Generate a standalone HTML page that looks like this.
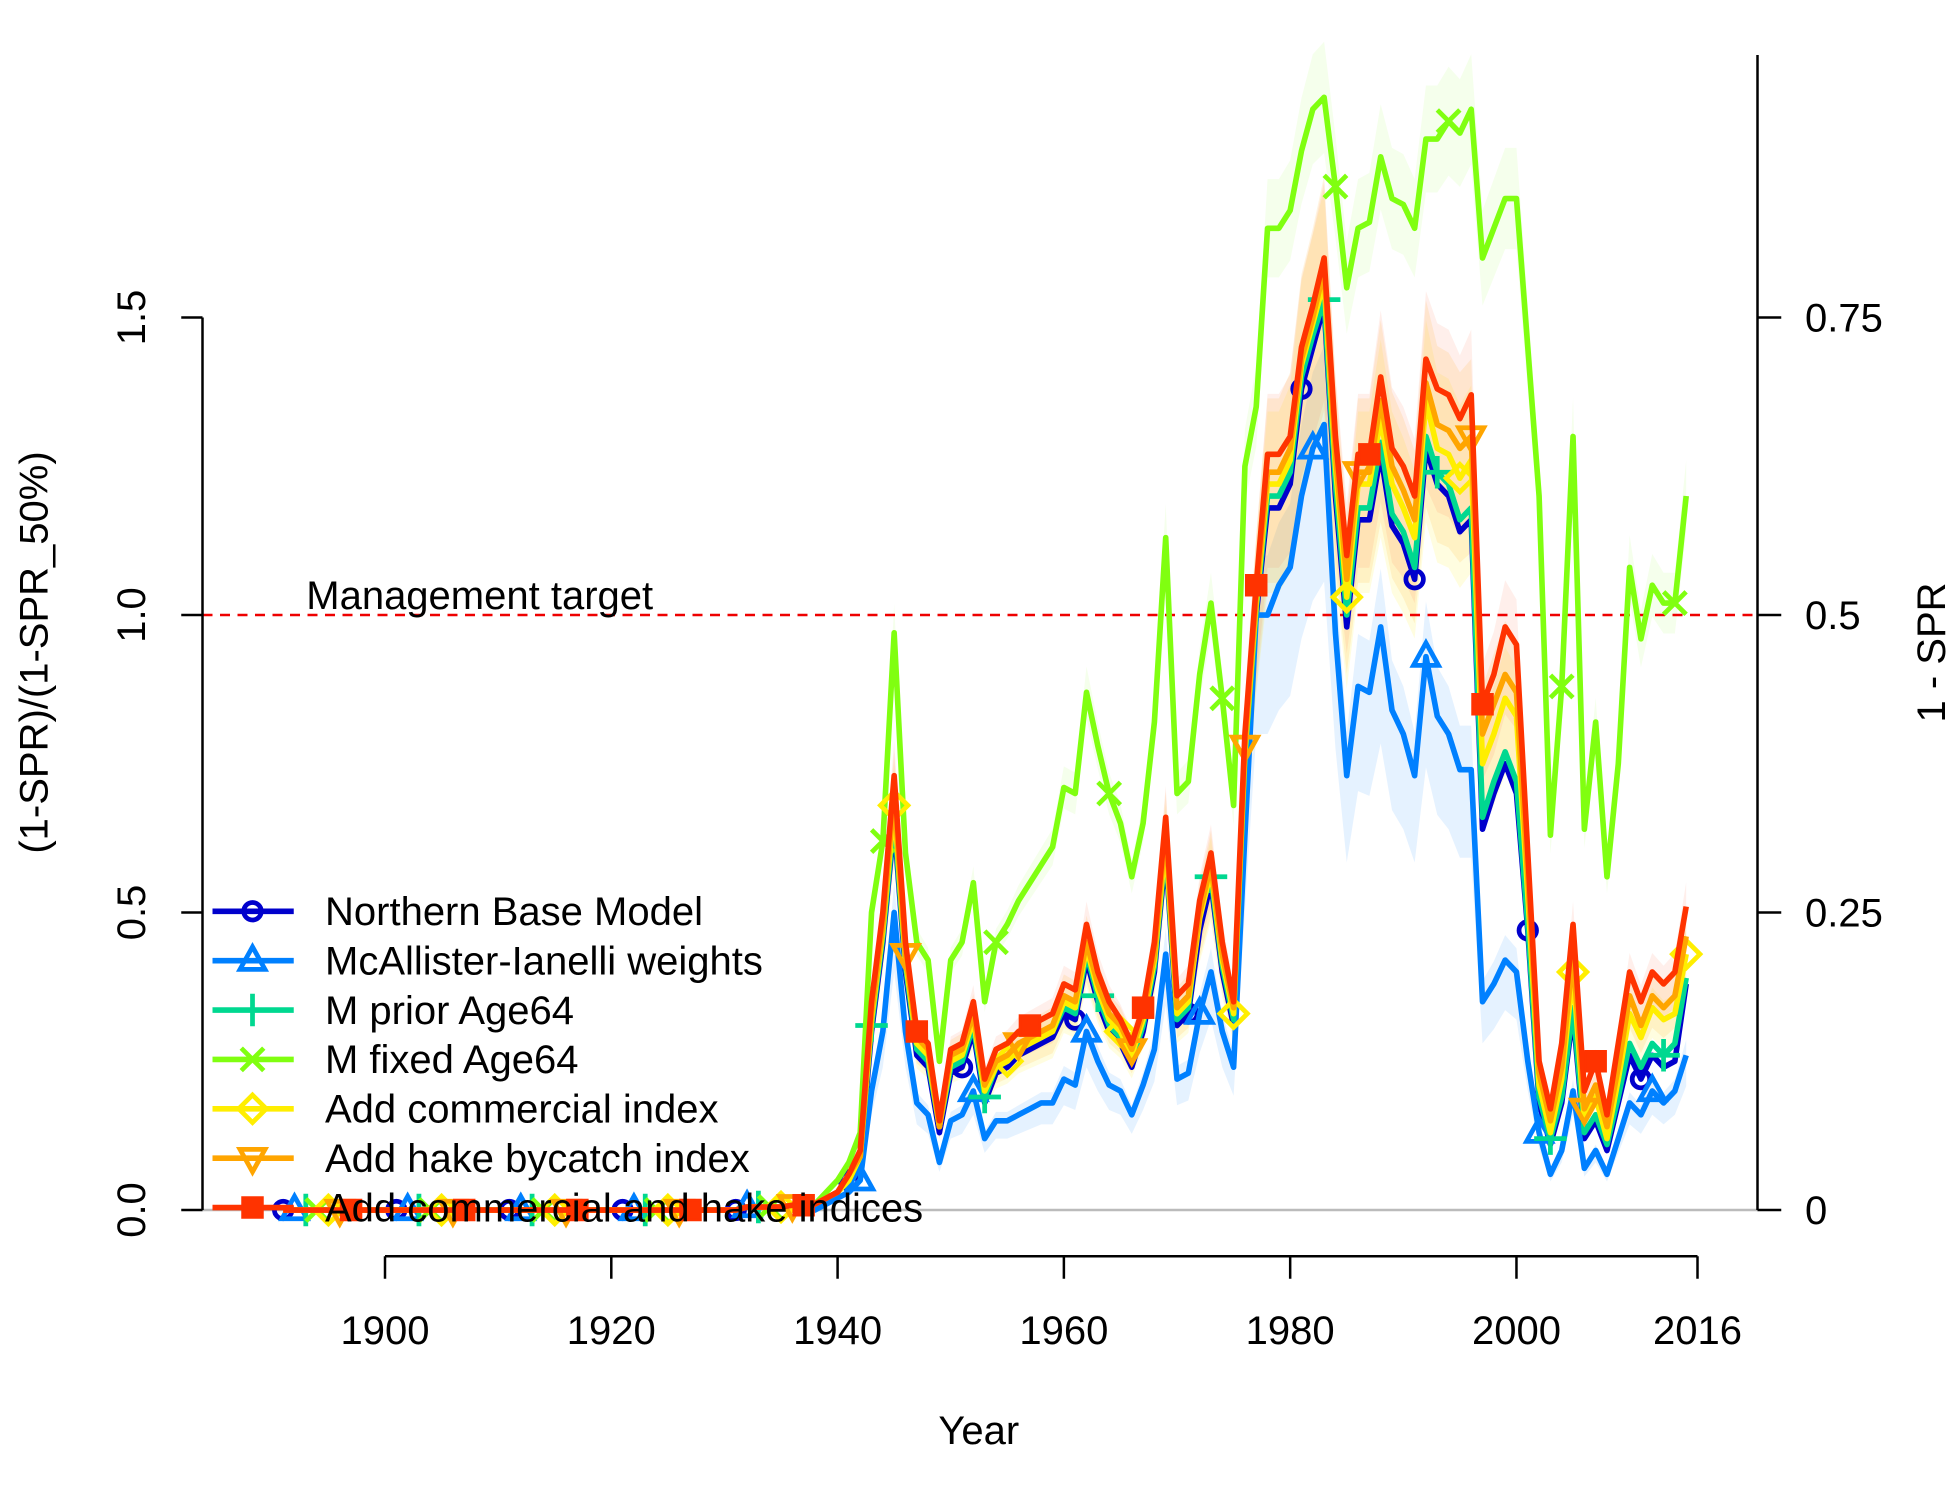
<!DOCTYPE html>
<html><head><meta charset="utf-8">
<style>
html,body{margin:0;padding:0;background:#fff;}
svg{display:block;}
text{font-family:"Liberation Sans",Arial,sans-serif;fill:#000;}
</style></head>
<body>
<svg id="chart" width="1950" height="1500" viewBox="0 0 1560 1200" xmlns="http://www.w3.org/2000/svg">
<g id="bands"></g>
<line x1="162" y1="968" x2="1406" y2="968" stroke="#bbb" stroke-width="2"/>
<line x1="162" y1="492" x2="1406" y2="492" stroke="#e00" stroke-width="2" stroke-dasharray="8,6"/>
<text x="245" y="487" font-size="32">Management target</text>
<g id="lines"></g>
<g id="axes"></g>
<g id="legend"></g>
<text x="783" y="1155" font-size="32" text-anchor="middle">Year</text>
<text transform="translate(38,522) rotate(-90)" font-size="32" text-anchor="middle">(1-SPR)/(1-SPR_50%)</text>
<text transform="translate(1556,522) rotate(-90)" font-size="32" text-anchor="middle">1 - SPR</text>
</svg>
<script>
const startYear = 1891;
const early = [0,0,0,0,0,0,0,0,0,0,0,0,0,0,0,0,0,0,0,0,0,0,0,0,0,0,0,0,0,0,0,0,0,0,0,0,0,0,0,0,0,0.005,0.005,0.005,0.005,0.008,0.008];
const baseVals = early.concat([0.01,0.02,0.03,0.05,0.08,0.3,0.45,0.65,0.4,0.26,0.24,0.13,0.23,0.24,0.3,0.18,0.23,0.24,0.26,0.27,0.28,0.29,0.33,0.32,0.42,0.35,0.3,0.28,0.24,0.3,0.4,0.6,0.31,0.33,0.47,0.55,0.4,0.31,0.75,1.0,1.18,1.18,1.22,1.38,1.45,1.52,1.2,0.98,1.16,1.16,1.27,1.15,1.12,1.06,1.28,1.22,1.2,1.14,1.16,0.64,0.7,0.75,0.7,0.47,0.18,0.11,0.18,0.33,0.12,0.15,0.1,0.18,0.26,0.22,0.26,0.24,0.25,0.38]);
const mcaVals = early.concat([0,0.01,0.02,0.03,0.05,0.2,0.3,0.5,0.3,0.18,0.16,0.08,0.15,0.16,0.2,0.12,0.15,0.15,0.16,0.17,0.18,0.18,0.22,0.21,0.3,0.25,0.21,0.2,0.16,0.21,0.27,0.43,0.22,0.23,0.33,0.4,0.3,0.24,0.63,1.0,1.0,1.05,1.08,1.2,1.28,1.32,0.97,0.73,0.88,0.87,0.98,0.84,0.8,0.73,0.93,0.83,0.8,0.74,0.74,0.35,0.38,0.42,0.4,0.25,0.13,0.06,0.1,0.2,0.07,0.1,0.06,0.12,0.18,0.16,0.2,0.18,0.2,0.26]);
const mpriorVals = early.concat([0.01,0.02,0.03,0.05,0.09,0.31,0.46,0.66,0.41,0.27,0.25,0.14,0.24,0.25,0.31,0.19,0.24,0.25,0.27,0.28,0.29,0.3,0.34,0.33,0.43,0.36,0.31,0.29,0.25,0.31,0.41,0.61,0.32,0.34,0.5,0.56,0.41,0.32,0.76,1.01,1.2,1.2,1.24,1.4,1.47,1.53,1.22,1.0,1.18,1.18,1.29,1.17,1.14,1.08,1.3,1.24,1.22,1.16,1.18,0.66,0.72,0.77,0.72,0.48,0.19,0.12,0.19,0.34,0.13,0.16,0.11,0.19,0.28,0.24,0.28,0.26,0.28,0.39]);
const mfixedVals = early.concat([0.01,0.03,0.05,0.08,0.13,0.5,0.62,0.97,0.6,0.45,0.42,0.25,0.42,0.45,0.55,0.35,0.45,0.48,0.52,0.55,0.58,0.61,0.71,0.7,0.87,0.78,0.7,0.65,0.56,0.65,0.82,1.13,0.7,0.72,0.9,1.02,0.86,0.68,1.25,1.35,1.65,1.65,1.68,1.78,1.85,1.87,1.72,1.55,1.65,1.66,1.77,1.7,1.69,1.65,1.8,1.8,1.83,1.81,1.85,1.6,1.65,1.7,1.7,1.45,1.2,0.63,0.88,1.3,0.64,0.82,0.56,0.75,1.08,0.96,1.05,1.02,1.02,1.2]);
const commVals = early.concat([0.01,0.02,0.03,0.05,0.09,0.32,0.47,0.68,0.42,0.28,0.26,0.14,0.25,0.26,0.32,0.2,0.24,0.25,0.27,0.28,0.29,0.3,0.35,0.34,0.44,0.37,0.32,0.3,0.26,0.32,0.42,0.62,0.33,0.35,0.49,0.57,0.42,0.33,0.77,1.02,1.22,1.22,1.26,1.42,1.49,1.56,1.25,1.03,1.22,1.22,1.33,1.22,1.18,1.13,1.36,1.28,1.27,1.23,1.26,0.75,0.8,0.86,0.83,0.53,0.21,0.13,0.22,0.4,0.15,0.19,0.12,0.22,0.33,0.29,0.34,0.32,0.33,0.43]);
const hakeVals = early.concat([0.01,0.02,0.03,0.06,0.09,0.33,0.48,0.7,0.43,0.29,0.27,0.14,0.26,0.27,0.33,0.21,0.25,0.26,0.28,0.29,0.3,0.31,0.36,0.35,0.45,0.38,0.33,0.31,0.27,0.33,0.43,0.64,0.34,0.36,0.5,0.58,0.43,0.34,0.78,1.03,1.24,1.24,1.28,1.43,1.5,1.58,1.27,1.06,1.24,1.24,1.36,1.25,1.21,1.16,1.39,1.32,1.31,1.28,1.3,0.8,0.85,0.9,0.87,0.56,0.23,0.15,0.24,0.43,0.17,0.21,0.14,0.24,0.36,0.31,0.36,0.34,0.36,0.46]);
const redVals = early.concat([0.01,0.02,0.03,0.06,0.1,0.35,0.5,0.73,0.45,0.3,0.28,0.15,0.27,0.28,0.35,0.22,0.27,0.28,0.3,0.31,0.32,0.33,0.38,0.37,0.48,0.4,0.35,0.32,0.28,0.34,0.45,0.66,0.36,0.38,0.52,0.6,0.45,0.35,0.8,1.05,1.27,1.27,1.3,1.45,1.52,1.6,1.3,1.1,1.27,1.27,1.4,1.28,1.25,1.2,1.43,1.38,1.37,1.33,1.37,0.85,0.9,0.98,0.95,0.6,0.25,0.17,0.28,0.48,0.2,0.25,0.16,0.28,0.4,0.35,0.4,0.38,0.4,0.51]);
const seriesNames = ["Northern Base Model","McAllister-Ianelli weights","M prior Age64","M fixed Age64","Add commercial index","Add hake bycatch index","Add commercial and hake indices"];
const xTicks = [1900,1920,1940,1960,1980,2000,2016];
const yTicks = [0,0.5,1.0,1.5];
const yTickLabels = ["0.0","0.5","1.0","1.5"];
const rTicks = [0,0.25,0.5,0.75];
const rTickLabels = ["0","0.25","0.5","0.75"];

const allVals=[baseVals,mcaVals,mpriorVals,mfixedVals,commVals,hakeVals,redVals];
const colors=["#0000cc","#0080ff","#00d890","#80ff10","#ffee00","#ffa500","#ff3300"];
const bandColors=[null,"rgba(0,128,255,0.10)",null,"rgba(128,255,16,0.08)","rgba(255,238,0,0.12)","rgba(255,165,0,0.12)","rgba(255,80,30,0.09)"];
const bandUp=[0,1.1,0,1.05,1.1,1.1,1.08];
const bandLo=[0,0.8,0,0.95,0.85,0.85,0.85];
const pch=["circle","tri","plus","x","diamond","itri","square"];
const X=y=>308+(y-1900)*1050/116;
const Y=v=>968-v*476;
const RY=v=>968-v*952;
const NS="http://www.w3.org/2000/svg";
function mk(tag,attrs,parent){const e=document.createElementNS(NS,tag);for(const k in attrs)e.setAttribute(k,attrs[k]);parent.appendChild(e);return e;}
const bands=document.getElementById('bands'),lines=document.getElementById('lines'),axes=document.getElementById('axes'),legend=document.getElementById('legend');

function marker(type,cx,cy,col,parent){
  const s=9, sw=3.8; let e;
  if(type==="circle") e=mk('circle',{cx,cy,r:7,fill:'none',stroke:col,'stroke-width':sw},parent);
  else if(type==="tri") e=mk('polygon',{points:`${cx},${cy-11} ${cx-10},${cy+7} ${cx+10},${cy+7}`,fill:'none',stroke:col,'stroke-width':sw},parent);
  else if(type==="itri") e=mk('polygon',{points:`${cx},${cy+11} ${cx-10},${cy-7} ${cx+10},${cy-7}`,fill:'none',stroke:col,'stroke-width':sw},parent);
  else if(type==="plus") e=mk('path',{d:`M${cx-13},${cy}H${cx+13}M${cx},${cy-13}V${cy+13}`,stroke:col,'stroke-width':sw},parent);
  else if(type==="x") e=mk('path',{d:`M${cx-s},${cy-s}L${cx+s},${cy+s}M${cx-s},${cy+s}L${cx+s},${cy-s}`,stroke:col,'stroke-width':sw},parent);
  else if(type==="diamond") e=mk('polygon',{points:`${cx},${cy-11} ${cx+11},${cy} ${cx},${cy+11} ${cx-11},${cy}`,fill:'none',stroke:col,'stroke-width':sw},parent);
  else e=mk('rect',{x:cx-8,y:cy-8,width:16,height:16,fill:col,stroke:col,'stroke-width':2},parent);
  return e;
}

allVals.forEach((vals,i)=>{
  if(!bandColors[i])return;
  const up=vals.map((v,k)=>X(startYear+k)+','+Y(v*bandUp[i]));
  const lo=vals.map((v,k)=>X(startYear+k)+','+Y(v*bandLo[i])).reverse();
  const p=mk('polygon',{points:up.concat(lo).join(' '),fill:bandColors[i]},bands);
  
  
});
allVals.forEach((vals,i)=>{
  const pts=vals.map((v,k)=>X(startYear+k)+','+Y(v)).join(' ');
  const l=mk('polyline',{points:pts,fill:'none',stroke:colors[i],'stroke-width':4.5,'stroke-linejoin':'round'},lines);
  
  
  for(let k=i;k<vals.length;k+=10){
    const m=marker(pch[i],X(startYear+k),Y(vals[k]),colors[i],lines);
    
    
  }
});
mk('line',{x1:162,y1:Y(0),x2:162,y2:Y(1.5),stroke:'#000','stroke-width':2},axes);
yTicks.forEach((t,i)=>{
  mk('line',{x1:145,y1:Y(t),x2:162,y2:Y(t),stroke:'#000','stroke-width':2},axes);
  const tx=mk('text',{transform:`translate(116,${Y(t)}) rotate(-90)`,'font-size':32,'text-anchor':'middle'},axes);
  tx.textContent=yTickLabels[i];
  
  
});
mk('line',{x1:1406,y1:RY(0),x2:1406,y2:44,stroke:'#000','stroke-width':2},axes);
rTicks.forEach((t,i)=>{
  mk('line',{x1:1406,y1:RY(t),x2:1425,y2:RY(t),stroke:'#000','stroke-width':2},axes);
  const tx=mk('text',{x:1444,y:RY(t)+11,'font-size':32},axes);
  tx.textContent=rTickLabels[i];
  
  
});
mk('line',{x1:X(1900),y1:1005,x2:X(2016),y2:1005,stroke:'#000','stroke-width':2},axes);
xTicks.forEach(t=>{
  mk('line',{x1:X(t),y1:1005,x2:X(t),y2:1023,stroke:'#000','stroke-width':2},axes);
  const tx=mk('text',{x:X(t),y:1075,'font-size':32,'text-anchor':'middle'},axes);
  tx.textContent=String(t);
  
  
});
seriesNames.forEach((n,i)=>{
  const y=729+i*39.5;
  mk('line',{x1:170,y1:y,x2:235,y2:y,stroke:colors[i],'stroke-width':4.5},legend);
  const m=marker(pch[i],202,y,colors[i],legend);
  
  
  const tx=mk('text',{x:260,y:y+11,'font-size':32},legend);
  tx.textContent=n;
  
  
});
</script>
</body></html>
